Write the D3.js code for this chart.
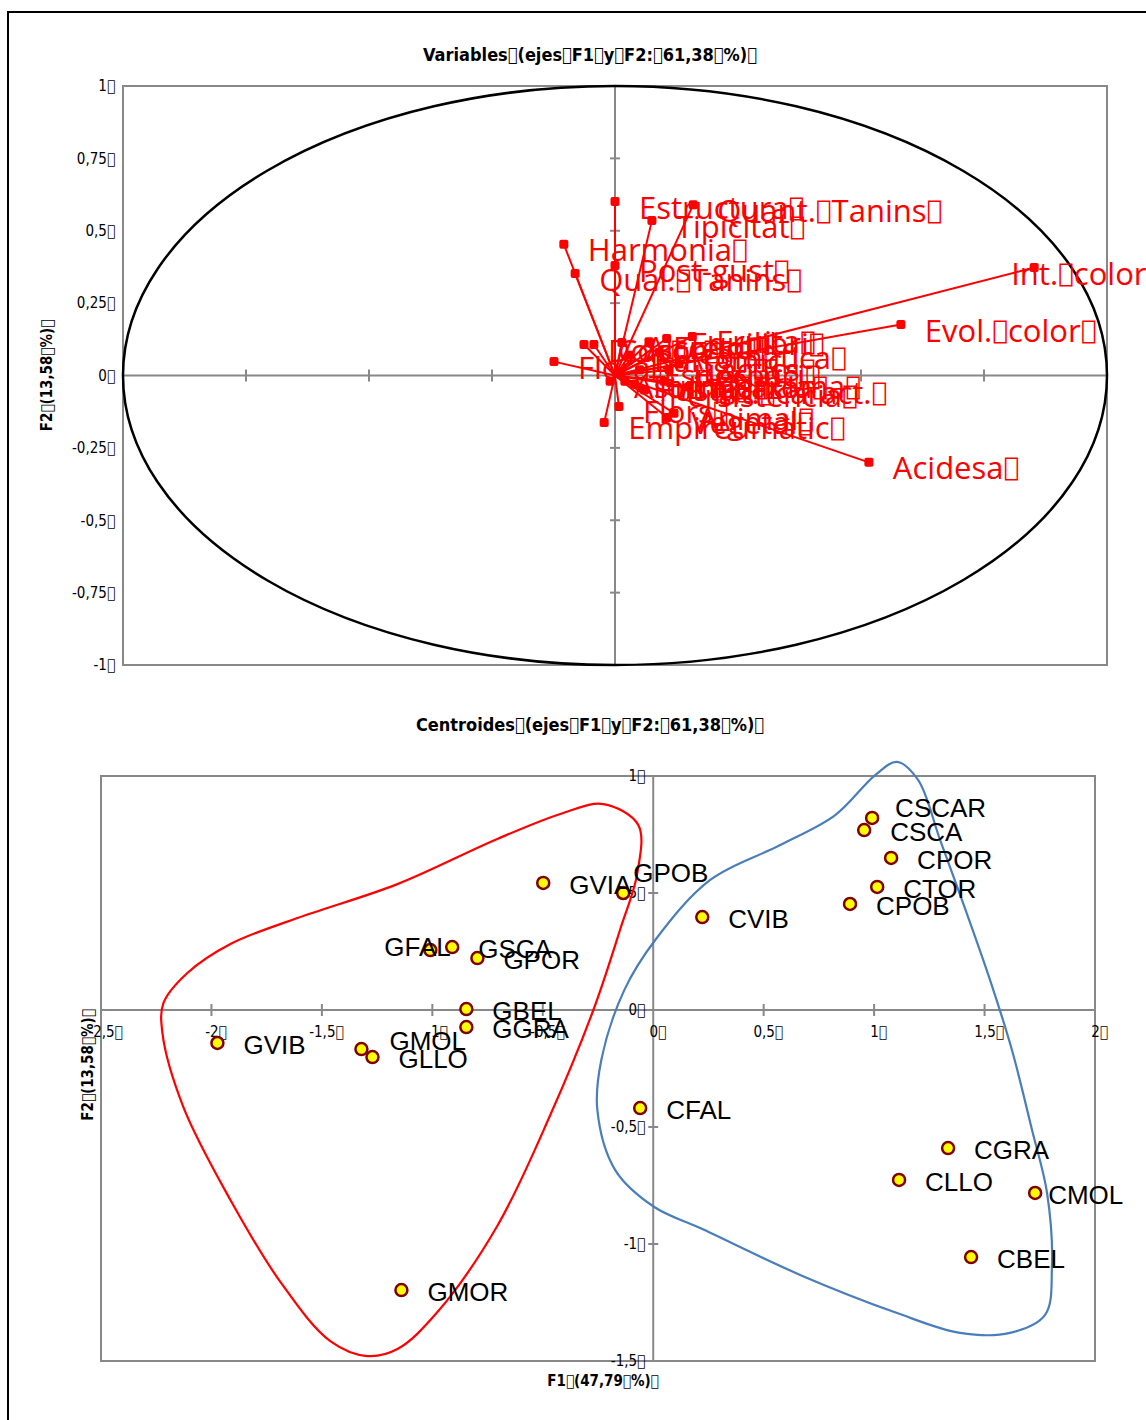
<!DOCTYPE html>
<html>
<head>
<meta charset="utf-8">
<script src="https://cdn.jsdelivr.net/npm/d3@7"></script>
<style>
body { margin: 0; background: #fff; }
</style>
</head>
<body>
<div id="chart"></div>
<script>
// missing-glyph marker the original export put in place of spaces
var BOX = "\uE000";

// ---- Variables (correlation circle) ----
var varNames = ["Int. color", "Evol. color", "Acidesa", "Estructura", "Quant. Tanins", "Tipicitat",
    "Harmonia", "Qual. Tanins", "Post-gust",
    "Fruita", "Equilibri", "Fresc", "Aromàtica", "Alcohol", "Cos", "Dolçor", "Floral", "Balsàmic",
    "Especiat", "Herbaci", "Làctics", "Int. aroma", "Int. caract.", "Fusta", "Persistència", "Torrats",
    "Flors", "Empireumàtic", "Vegetal", "Animal", "Astringència"];
var varF1 = [0.852, 0.581, 0.516, 0.0, 0.159, 0.075,
    -0.104, -0.081, 0.0,
    0.157, 0.105, 0.069, 0.09, 0.014, -0.043, -0.063, -0.124, 0.03,
    0.05, 0.11, 0.13, 0.10, 0.15, 0.04, 0.06, 0.02,
    0.008, -0.022, 0.106, 0.12, -0.01];
var varF2 = [0.373, 0.176, -0.300, 0.601, 0.590, 0.535,
    0.453, 0.352, 0.380,
    0.135, 0.128, 0.117, 0.080, 0.114, 0.107, 0.107, 0.048, 0.070,
    0.020, 0.020, 0.040, -0.020, -0.040, -0.030, -0.050, -0.020,
    -0.107, -0.162, -0.145, -0.130, -0.020];
var varTicks = [-1, -0.75, -0.5, -0.25, 0, 0.25, 0.5, 0.75, 1];

// ---- Centroids ----
var obsNames = ["GVIA", "GPOB", "GFAL", "GSCA", "GPOR", "GBEL", "GGRA", "GVIB", "GMOL", "GLLO", "GMOR",
    "CVIB", "CSCAR", "CSCA", "CPOR", "CTOR", "CPOB", "CFAL", "CGRA", "CLLO", "CMOL", "CBEL"];
var obsF1 = [-0.498, -0.136, -1.009, -0.910, -0.796, -0.846, -0.846, -1.973, -1.321, -1.271, -1.140,
    0.222, 0.991, 0.955, 1.077, 1.014, 0.891, -0.059, 1.335, 1.113, 1.729, 1.439];
var obsF2 = [0.543, 0.500, 0.256, 0.269, 0.222, 0.004, -0.073, -0.141, -0.167, -0.201, -1.197,
    0.397, 0.821, 0.769, 0.650, 0.526, 0.453, -0.419, -0.590, -0.726, -0.782, -1.056];
var obsTicksX = [-2.5, -2, -1.5, -1, -0.5, 0, 0.5, 1, 1.5, 2];
var obsTicksY = [-1.5, -1, -0.5, 0, 0.5, 1];

// hand drawn group outlines (F1, F2)
var groupG = [[-0.226, 0.880], [-0.068, 0.791], [-0.072, 0.585], [-0.149, 0.346], [-0.271, 0.0],
    [-0.466, -0.449], [-0.706, -0.923], [-0.977, -1.291], [-1.158, -1.449], [-1.294, -1.479],
    [-1.462, -1.415], [-1.688, -1.162], [-1.914, -0.812], [-2.127, -0.415], [-2.222, -0.098],
    [-2.217, 0.030], [-2.109, 0.158], [-1.914, 0.282], [-1.611, 0.393], [-1.158, 0.538],
    [-0.706, 0.731], [-0.407, 0.842]];
var groupC = [[1.104, 1.060], [1.199, 0.983], [1.299, 0.726], [1.398, 0.470], [1.525, 0.128],
    [1.624, -0.171], [1.715, -0.513], [1.783, -0.782], [1.805, -1.098], [1.774, -1.303],
    [1.615, -1.380], [1.389, -1.380], [1.104, -1.295], [0.665, -1.132], [0.213, -0.932],
    [0.005, -0.842], [-0.172, -0.684], [-0.253, -0.427], [-0.235, -0.214], [-0.131, 0.085],
    [0.009, 0.299], [0.258, 0.556], [0.575, 0.705], [0.824, 0.833], [1.005, 1.004]];

// label nudges (px) where the original moved a label
var varNudge = { "Int. color": [-47, 0] };
var obsNudge = { "GPOB": [-16, -22], "GFAL": [-72, -5], "GMOL": [2, -10], "CSCAR": [-3, -12], "CMOL": [-13, 0] };

var fmt = function (v) { return String(v).replace(".", ",") + BOX; };
var narrow = "'Liberation Sans Narrow', 'DejaVu Sans Condensed', sans-serif";

var svg = d3.select("#chart").append("svg")
    .attr("width", 1146)
    .attr("height", 1420);

// outer frame
svg.append("rect")
    .attr("x", 8).attr("y", 12)
    .attr("width", 1160).attr("height", 1430)
    .attr("fill", "none").attr("stroke", "#000").attr("stroke-width", 2);

function title(txt, x, y) {
    svg.append("text")
        .attr("x", x).attr("y", y)
        .attr("text-anchor", "middle")
        .attr("font-family", narrow)
        .attr("font-weight", "bold")
        .attr("font-size", 18)
        .text(txt.split(" ").join(BOX) + BOX);
}

// words with the box glyph after each one (box drawn from DejaVu, which shows it)
function boxedText(sel, str) {
    str.split(" ").forEach(function (w) {
        sel.append("tspan").text(w);
        sel.append("tspan").attr("font-family", "'DejaVu Sans'").attr("font-size", "0.85em").text(BOX);
    });
}

function crossTicks(g, scale, vals, horizontal, pos, len) {
    vals.forEach(function (v) {
        var p = scale(v);
        g.append("line")
            .attr("x1", horizontal ? p : pos - len).attr("x2", horizontal ? p : pos + len)
            .attr("y1", horizontal ? pos - len : p).attr("y2", horizontal ? pos + len : p)
            .attr("stroke", "#888").attr("stroke-width", 2);
    });
}

// ================= top chart =================
var x1 = d3.scaleLinear().domain([-1, 1]).range([123, 1107]);
var y1 = d3.scaleLinear().domain([-1, 1]).range([665, 86]);

title("Variables (ejes F1 y F2: 61,38 %)", 590, 61);

var gTop = svg.append("g");
gTop.append("rect")
    .attr("x", x1(-1)).attr("y", y1(1))
    .attr("width", x1(1) - x1(-1)).attr("height", y1(-1) - y1(1))
    .attr("fill", "none").attr("stroke", "#888").attr("stroke-width", 2);

gTop.append("line").attr("x1", x1(-1)).attr("x2", x1(1)).attr("y1", y1(0)).attr("y2", y1(0))
    .attr("stroke", "#888").attr("stroke-width", 2);
gTop.append("line").attr("x1", x1(0)).attr("x2", x1(0)).attr("y1", y1(-1)).attr("y2", y1(1))
    .attr("stroke", "#888").attr("stroke-width", 2);
crossTicks(gTop, x1, varTicks.filter(function (d) { return Math.abs(d) < 1 && d !== 0; }), true, y1(0), 6);
crossTicks(gTop, y1, varTicks.filter(function (d) { return Math.abs(d) < 1 && d !== 0; }), false, x1(0), 5);

var yAxis1 = gTop.append("g")
    .attr("transform", "translate(" + x1(-1) + ",0)")
    .call(d3.axisLeft(y1).tickValues(varTicks).tickSize(0).tickPadding(8).tickFormat(fmt));
yAxis1.select(".domain").remove();
yAxis1.selectAll("text").attr("font-family", narrow).attr("font-size", 15).attr("fill", "#000");

svg.append("text")
    .attr("transform", "translate(52," + y1(0) + ") rotate(-90)")
    .attr("text-anchor", "middle")
    .attr("font-family", narrow).attr("font-weight", "bold").attr("font-size", 15)
    .text("F2" + BOX + "(13,58" + BOX + "%)" + BOX);

// correlation circle
gTop.append("ellipse")
    .attr("cx", x1(0)).attr("cy", y1(0))
    .attr("rx", x1(1) - x1(0)).attr("ry", y1(-1) - y1(0))
    .attr("fill", "none").attr("stroke", "#000").attr("stroke-width", 2.5);

var vars = varNames.map(function (n, i) { return { name: n, f1: varF1[i], f2: varF2[i] }; });

gTop.selectAll("line.vec").data(vars).enter().append("line")
    .attr("class", "vec")
    .attr("x1", x1(0)).attr("y1", y1(0))
    .attr("x2", function (d) { return x1(d.f1); })
    .attr("y2", function (d) { return y1(d.f2); })
    .attr("stroke", "#ff0000").attr("stroke-width", 2);

gTop.selectAll("rect.pt").data(vars).enter().append("rect")
    .attr("class", "pt")
    .attr("x", function (d) { return x1(d.f1) - 4.5; })
    .attr("y", function (d) { return y1(d.f2) - 4.5; })
    .attr("width", 9).attr("height", 9).attr("rx", 2)
    .attr("fill", "#ff0000");

gTop.selectAll("text.lab").data(vars).enter().append("text")
    .attr("class", "lab")
    .attr("x", function (d) { return x1(d.f1) + 24 + (varNudge[d.name] ? varNudge[d.name][0] : 0); })
    .attr("y", function (d) { return y1(d.f2) + 5 + (varNudge[d.name] ? varNudge[d.name][1] : 0); })
    .attr("dominant-baseline", "central")
    .attr("font-family", "'Open Sans', sans-serif")
    .attr("font-size", 31)
    .attr("fill", "#ff0000")
    .each(function (d) { boxedText(d3.select(this), d.name); });

// ================= bottom chart =================
var x2 = d3.scaleLinear().domain([-2.5, 2]).range([101, 1095]);
var y2 = d3.scaleLinear().domain([-1.5, 1]).range([1361, 776]);

title("Centroides (ejes F1 y F2: 61,38 %)", 590, 731);

var gBot = svg.append("g");
gBot.append("rect")
    .attr("x", x2(-2.5)).attr("y", y2(1))
    .attr("width", x2(2) - x2(-2.5)).attr("height", y2(-1.5) - y2(1))
    .attr("fill", "none").attr("stroke", "#888").attr("stroke-width", 2);
gBot.append("line").attr("x1", x2(-2.5)).attr("x2", x2(2)).attr("y1", y2(0)).attr("y2", y2(0))
    .attr("stroke", "#888").attr("stroke-width", 2);
gBot.append("line").attr("x1", x2(0)).attr("x2", x2(0)).attr("y1", y2(-1.5)).attr("y2", y2(1))
    .attr("stroke", "#888").attr("stroke-width", 2);
crossTicks(gBot, x2, obsTicksX.filter(function (d) { return d !== 0; }), true, y2(0), 6);
crossTicks(gBot, y2, obsTicksY.filter(function (d) { return d !== 0; }), false, x2(0), 5);

var yAxis2 = gBot.append("g")
    .attr("transform", "translate(" + x2(0) + ",0)")
    .call(d3.axisLeft(y2).tickValues(obsTicksY).tickSize(0).tickPadding(8).tickFormat(fmt));
yAxis2.select(".domain").remove();
yAxis2.selectAll("text").attr("font-family", narrow).attr("font-size", 15).attr("fill", "#000");

var xAxis2 = gBot.append("g")
    .attr("transform", "translate(4," + y2(0) + ")")
    .call(d3.axisBottom(x2).tickValues(obsTicksX).tickSize(0).tickPadding(16).tickFormat(fmt));
xAxis2.select(".domain").remove();
xAxis2.selectAll("text").attr("font-family", narrow).attr("font-size", 15).attr("fill", "#000");

svg.append("text")
    .attr("transform", "translate(93," + (y2(0) + 55) + ") rotate(-90)")
    .attr("text-anchor", "middle")
    .attr("font-family", narrow).attr("font-weight", "bold").attr("font-size", 15)
    .text("F2" + BOX + "(13,58" + BOX + "%)" + BOX);
svg.append("text")
    .attr("x", 603).attr("y", 1386)
    .attr("text-anchor", "middle")
    .attr("font-family", narrow).attr("font-weight", "bold").attr("font-size", 15)
    .text("F1" + BOX + "(47,79" + BOX + "%)" + BOX);

var outline = d3.line()
    .x(function (d) { return x2(d[0]); })
    .y(function (d) { return y2(d[1]); })
    .curve(d3.curveCatmullRomClosed.alpha(0.5));

gBot.append("path").attr("d", outline(groupG))
    .attr("fill", "none").attr("stroke", "#ff0000").attr("stroke-width", 2.2);
gBot.append("path").attr("d", outline(groupC))
    .attr("fill", "none").attr("stroke", "#4a7ebb").attr("stroke-width", 2.2);

var obs = obsNames.map(function (n, i) { return { name: n, f1: obsF1[i], f2: obsF2[i] }; });

gBot.selectAll("circle.obs").data(obs).enter().append("circle")
    .attr("class", "obs")
    .attr("cx", function (d) { return x2(d.f1); })
    .attr("cy", function (d) { return y2(d.f2); })
    .attr("r", 6)
    .attr("fill", "#ffff00").attr("stroke", "#800000").attr("stroke-width", 2.5);

gBot.selectAll("text.obs").data(obs).enter().append("text")
    .attr("class", "obs")
    .attr("x", function (d) { return x2(d.f1) + 26 + (obsNudge[d.name] ? obsNudge[d.name][0] : 0); })
    .attr("y", function (d) { return y2(d.f2) + 2 + (obsNudge[d.name] ? obsNudge[d.name][1] : 0); })
    .attr("dominant-baseline", "central")
    .attr("font-family", "'Liberation Sans', Arial, sans-serif")
    .attr("font-size", 26)
    .attr("fill", "#000")
    .text(function (d) { return d.name; });
</script>
</body>
</html>
